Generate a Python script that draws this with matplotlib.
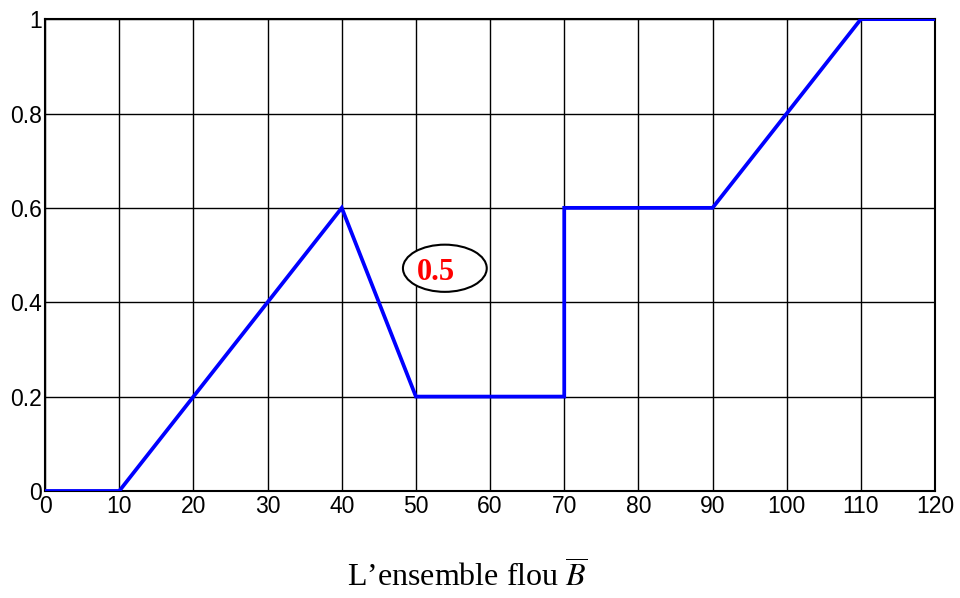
import matplotlib
matplotlib.use("Agg")
import matplotlib.pyplot as plt
from matplotlib.patches import Ellipse

# Membership function of the fuzzy set
x_vals = [0, 10, 40, 50, 70, 70, 90, 110, 120]
mu_vals = [0, 0, 0.6, 0.2, 0.2, 0.6, 0.6, 1.0, 1.0]
x_ticks = [0, 10, 20, 30, 40, 50, 60, 70, 80, 90, 100, 110, 120]
y_ticks = [0, 0.2, 0.4, 0.6, 0.8, 1.0]
y_ticklabels = ["0", "0.2", "0.4", "0.6", "0.8", "1"]
alpha_label = "0.5"
alpha_pos = (52.7, 0.462)

plt.rcParams["mathtext.fontset"] = "stix"

fig = plt.figure(figsize=(9.6, 5.98), dpi=100)
ax = fig.add_axes([0.047, 0.179, 0.927, 0.789])

ax.plot(x_vals, mu_vals, color="#0000ff", lw=2.7, solid_joinstyle="miter", zorder=3)

ax.set_xlim(0, 120)
ax.set_ylim(0, 1)
ax.set_xticks(x_ticks)
ax.set_yticks(y_ticks)
ax.set_yticklabels(y_ticklabels)
ax.grid(True, color="black", lw=1.0)
ax.tick_params(length=0, labelsize=16.5)
ax.tick_params(axis="x", pad=3)
ax.tick_params(axis="y", pad=2)
for lbl in ax.get_xticklabels() + ax.get_yticklabels():
    lbl.set_family("Liberation Sans")
for s in ax.spines.values():
    s.set_linewidth(1.5)

ell = Ellipse((53.9, 0.472), width=11.3, height=0.1, facecolor="white",
              edgecolor="black", lw=1.5, zorder=4)
ax.add_patch(ell)
ax.text(alpha_pos[0], alpha_pos[1], alpha_label, color="red", fontsize=22,
        fontweight="bold", family="Liberation Serif", ha="center", va="center", zorder=5)

fig.text(0.487, 0.018, r"L’ensemble flou $\overline{B}$", fontsize=23,
         family="Liberation Serif", ha="center", va="baseline")

fig.savefig("out.png", dpi=100)
